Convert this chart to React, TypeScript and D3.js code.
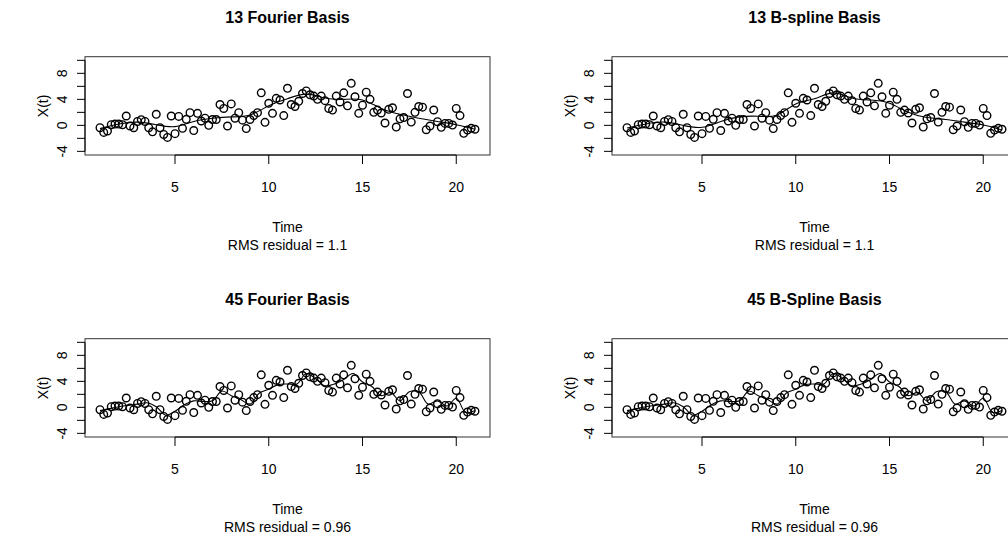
import React from 'react';
import * as d3 from 'd3';

// observed series, one value every 0.2 time units from t = 1 to t = 21
const observed = [
  -0.36, -1.08, -0.87, 0.1, 0.2, 0.2, 0.1, 1.44, -0.1, -0.36,
  0.6, 0.87, 0.6, -0.36, -1.0, 1.7, -0.36, -1.4, -1.85, 1.44,
  -1.28, 1.38, -0.46, 0.92, 1.95, -0.8, 1.85, 0.67, 1.1, 0.0,
  0.9, 0.9, 3.2, 2.6, -0.1, 3.3, 1.1, 1.95, 0.8, -0.5,
  0.9, 1.5, 1.95, 5.0, 0.46, 3.4, 1.85, 4.15, 3.9, 1.5,
  5.7, 3.2, 2.9, 3.7, 4.9, 5.3, 4.7, 4.5, 4.0, 4.5,
  3.8, 2.6, 2.35, 4.5, 3.6, 5.0, 3.0, 6.46, 4.4, 1.85,
  3.1, 5.1, 4.0, 2.0, 2.35, 1.9, 0.36, 2.46, 2.7, -0.26,
  1.0, 1.2, 4.9, 0.5, 2.0, 2.9, 2.8, -0.67, -0.1, 2.36,
  0.56, -0.3, 0.3, 0.3, 0.05, 2.6, 1.5, -1.23, -0.72, -0.46,
  -0.6,
];
const obsTimes = observed.map((_, i) => 1 + i * 0.2);

// smooth fits read at t = 1, 2, ..., 21
const smoothTimes = d3.range(1, 22, 1);
const fourier13 = [-0.5, 0.2, 0.5, 0.1, -0.2, 0.6, 1.1, 1.3, 1.6, 3.0, 4.1, 4.8, 4.2, 4.0, 3.9, 2.6, 1.7, 1.1, 0.6, 0.1, -0.6];
const bspline13 = [-0.4, 0.2, 0.5, 0.0, -0.3, 0.6, 1.3, 1.4, 1.6, 3.3, 4.1, 5.0, 4.2, 3.9, 3.4, 2.0, 1.2, 0.9, 0.5, 0.05, -0.7];

// rough fits read at t = 1, 1.5, ..., 21
const roughTimes = d3.range(0, 41).map(i => 1 + i * 0.5);
const fourier45 = [
  -0.5, -0.2, 0.1, 0.3, 0.5, 0.7, 0.1, -1.2, -0.6, 0.4,
  1.0, 0.9, 1.0, 2.5, 1.8, 1.2, 0.5, 2.2, 2.8, 3.5,
  3.6, 3.6, 5.2, 4.4, 3.3, 3.6, 4.3, 5.2, 3.9, 3.2,
  1.8, 2.3, 1.0, 2.4, 2.4, 0.5, 1.0, 0.2, 1.4, -0.8,
  -0.5,
];
const bspline45 = [
  -0.5, -0.2, 0.1, 0.3, 0.5, 0.7, 0.1, -1.2, -0.6, 0.4,
  1.0, 0.9, 1.0, 2.5, 1.8, 1.2, 0.5, 2.2, 2.8, 3.5,
  3.6, 3.6, 5.2, 4.4, 3.3, 3.6, 4.3, 5.2, 3.9, 3.2,
  1.8, 2.3, 1.0, 2.4, 2.4, 0.5, 1.0, 0.2, 1.4, -0.8,
  -0.5,
];

const titles = ['13 Fourier Basis', '13 B-spline Basis', '45 Fourier Basis', '45 B-Spline Basis'];
const rmsLabels = ['1.1', '1.1', '0.96', '0.96'];
const xTicks = [5, 10, 15, 20];
const yTicks = [-4, -2, 0, 2, 4, 6, 8, 10];
const yLabels = [-4, 0, 4, 8];

const font = 'Liberation Sans, Arial, Helvetica, sans-serif';

interface PanelProps {
  title: string;
  rms: string;
  fitT: number[];
  fitV: number[];
  curve: d3.CurveFactory;
  dx: number;
  dy: number;
}

const Panel: React.FC<PanelProps> = ({ title, rms, fitT, fitV, curve, dx, dy }) => {
  const x = d3.scaleLinear().domain([0.2, 21.8]).range([85, 490]);
  const y = d3.scaleLinear().domain([-4.56, 10.56]).range([155, 56.7]);

  const line = d3.line<number>()
    .x((_, i) => x(fitT[i]))
    .y(d => y(d))
    .curve(curve);

  return (
    <g transform={`translate(${dx},${dy})`} fontFamily={font}>
      <text x={287.5} y={23} textAnchor="middle" fontWeight="bold" fontSize={16}>{title}</text>

      {/* box */}
      <rect x={x(0.2)} y={y(10.56)} width={x(21.8) - x(0.2)} height={y(-4.56) - y(10.56)}
        fill="none" stroke="#333" strokeWidth={1} />

      {/* y axis */}
      <line x1={x(0.2)} x2={x(0.2)} y1={y(-4)} y2={y(10)} stroke="#000" />
      {yTicks.map(t => (
        <line key={t} x1={x(0.2) - 8} x2={x(0.2)} y1={y(t)} y2={y(t)} stroke="#000" />
      ))}
      {yLabels.map(t => (
        <text key={t} transform={`translate(62,${y(t)}) rotate(-90)`} textAnchor="middle"
          dominantBaseline="central" fontSize={14}>{t}</text>
      ))}
      <text transform={`translate(43,${y(3)}) rotate(-90)`} textAnchor="middle"
        dominantBaseline="central" fontSize={14}>X(t)</text>

      {/* x axis */}
      <line x1={x(5)} x2={x(20)} y1={y(-4.56)} y2={y(-4.56)} stroke="#000" />
      {xTicks.map(t => (
        <g key={t}>
          <line x1={x(t)} x2={x(t)} y1={y(-4.56)} y2={y(-4.56) + 9} stroke="#000" />
          <text x={x(t)} y={192} textAnchor="middle" fontSize={14}>{t}</text>
        </g>
      ))}
      <text x={287.5} y={232} textAnchor="middle" fontSize={14}>Time</text>
      <text x={287.5} y={250} textAnchor="middle" fontSize={14}>{`RMS residual = ${rms}`}</text>

      {/* points */}
      {observed.map((v, i) => (
        <circle key={i} cx={x(obsTimes[i])} cy={y(v)} r={3.8} fill="none" stroke="#000" strokeWidth={1.4} />
      ))}

      {/* fit */}
      <path d={line(fitV) || ''} fill="none" stroke="#000" strokeWidth={1.1} />
    </g>
  );
};

export default function App() {
  return (
    <svg width={1008} height={542} style={{ position: 'absolute', left: 0, top: 0, background: '#fff' }}>
      <rect width={1008} height={542} fill="#fff" />
      <Panel title={titles[0]} rms={rmsLabels[0]} fitT={smoothTimes} fitV={fourier13} curve={d3.curveNatural} dx={0} dy={0} />
      <Panel title={titles[1]} rms={rmsLabels[1]} fitT={smoothTimes} fitV={bspline13} curve={d3.curveNatural} dx={527} dy={0} />
      <Panel title={titles[2]} rms={rmsLabels[2]} fitT={roughTimes} fitV={fourier45} curve={d3.curveCatmullRom} dx={0} dy={282} />
      <Panel title={titles[3]} rms={rmsLabels[3]} fitT={roughTimes} fitV={bspline45} curve={d3.curveCatmullRom} dx={527} dy={282} />
    </svg>
  );
}
